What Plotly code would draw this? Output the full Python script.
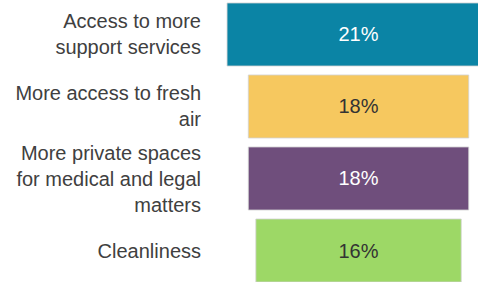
import plotly.graph_objects as go

categories = ["Access to more<br>support services", "More access to fresh<br>air",
              "More private spaces<br>for medical and legal<br>matters", "Cleanliness"]
values = [21.0, 17.6, 17.6, 16.4]
colors = ["#0b84a5", "#f6c85f", "#6f4e7c", "#9dd866"]
text_colors = ["white", "#333333", "white", "#333333"]

FONT = "Liberation Sans, Arial, sans-serif"

fig = go.Figure(go.Funnel(
    y=categories,
    x=values,
    texttemplate="%{x:.0f}%",
    textposition="inside",
    insidetextanchor="middle",
    textfont=dict(family=FONT, size=20, color=text_colors),
    marker=dict(color=colors, line=dict(width=1, color="rgba(210,210,210,0.8)")),
    connector=dict(visible=False),
    hoverinfo="skip",
))

fig.update_layout(
    width=478, height=282,
    margin=dict(l=202, r=0, t=0, b=0),
    paper_bgcolor="white", plot_bgcolor="white",
    showlegend=False,
    funnelgap=0.125,
    font=dict(family=FONT, size=20, color="#404040"),
    xaxis=dict(visible=False, range=[-12.5, 9.54], fixedrange=True),
    yaxis=dict(range=[3.4375, -0.479], autorange=False, showgrid=False, zeroline=False,
               showline=False, ticks="", tickfont=dict(family=FONT, size=20, color="#404040"),
               fixedrange=True),
)

fig.write_html("out.html", config={"displayModeBar": False},
               post_script="document.body.style.margin='0';")
